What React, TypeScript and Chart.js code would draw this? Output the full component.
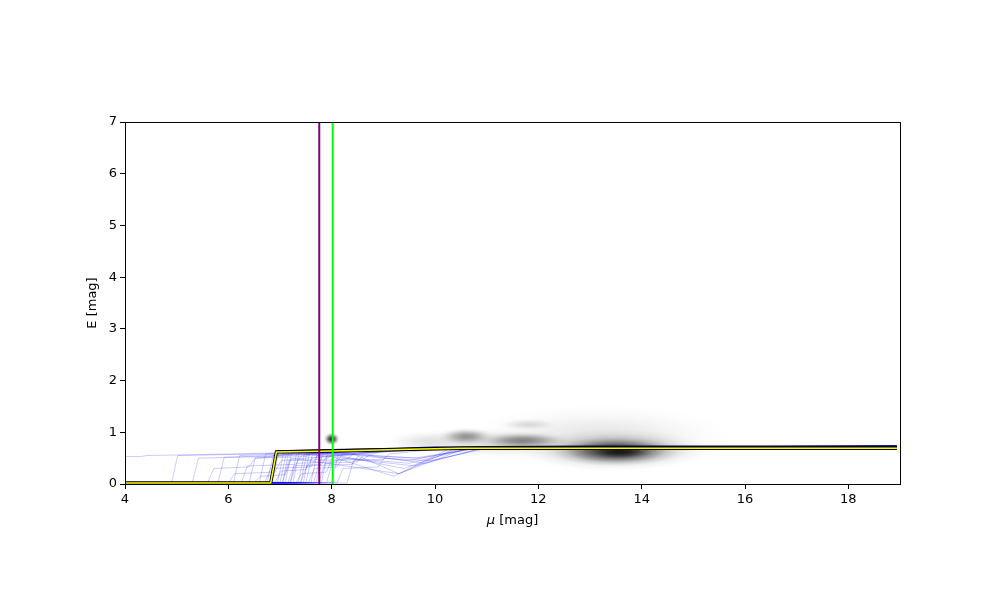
import React, { useEffect, useRef } from "react";
import { Chart, registerables } from "chart.js";

Chart.register(...registerables);

// axis ticks
const xTicks = [4, 6, 8, 10, 12, 14, 16, 18];
const yTicks = [0, 1, 2, 3, 4, 5, 6, 7];
const xTitleSymbol = "μ";
const xTitleUnit = " [mag]";

// density blobs (mu, E, radius in mu, radius in E, darkness)
const blobMu = [13.2, 11.0, 9.8, 13.5, 13.5, 13.6, 11.7, 10.6, 11.8, 8.0];
const blobE = [0.9, 0.8, 0.82, 0.66, 0.63, 0.62, 0.84, 0.92, 1.15, 0.87];
const blobSx = [2.6, 1.9, 0.8, 1.8, 1.2, 0.6, 0.9, 0.55, 0.6, 0.16];
const blobSy = [0.65, 0.3, 0.22, 0.4, 0.28, 0.14, 0.17, 0.17, 0.12, 0.13];
const blobAlpha = [0.1, 0.12, 0.08, 0.35, 0.7, 0.55, 0.42, 0.38, 0.12, 0.85];

// individual sample traces (blue)
const traceBase = [0.53, 0.02, 0.02, 0.03, 0.02, 0.02, 0.03, 0.02, 0.02, 0.03, 0.02, 0.02, 0.03, 0.02, 0.02, 0.02, 0.03, 0.02, 0.02, 0.03, 0.02, 0.02, 0.02, 0.03, 0.02, 0.02, 0.03, 0.02, 0.02, 0.02, 0.03, 0.02, 0.02, 0.03, 0.02, 0.02, 0.02, 0.03, 0.02, 0.02];
const traceJ1 = [4.3, 4.9, 5.3, 5.6, 5.8, 6.0, 6.1, 6.25, 6.4, 6.5, 6.6, 6.7, 6.75, 6.85, 6.9, 7.0, 7.05, 7.1, 7.15, 7.2, 7.25, 7.3, 7.35, 7.4, 7.45, 7.5, 7.55, 7.6, 7.65, 7.7, 7.75, 7.8, 7.9, 8.0, 8.1, 8.3, 6.95, 7.05, 7.2, 7.4];
const traceE1 = [0.55, 0.55, 0.5, 0.3, 0.52, 0.2, 0.55, 0.35, 0.5, 0.15, 0.58, 0.3, 0.55, 0.6, 0.25, 0.58, 0.45, 0.6, 0.35, 0.4, 0.6, 0.2, 0.57, 0.35, 0.6, 0.55, 0.3, 0.6, 0.45, 0.58, 0.4, 0.6, 0.45, 0.55, 0.3, 0.45, 0.6, 0.62, 0.58, 0.6];
const traceJ2 = [6.0, 6.5, 6.8, 6.4, 7.0, 6.9, 7.2, 7.3, 7.5, 7.1, 7.4, 7.6, 7.7, 7.8, 7.5, 8.0, 7.9, 8.2, 7.8, 8.1, 8.0, 7.9, 8.3, 8.4, 8.2, 8.5, 8.1, 8.4, 8.3, 8.6, 8.5, 8.7, 8.6, 8.8, 8.9, 9.0, 7.6, 7.8, 8.0, 8.1];
const traceE2 = [0.58, 0.58, 0.56, 0.5, 0.58, 0.45, 0.6, 0.55, 0.58, 0.5, 0.6, 0.55, 0.6, 0.62, 0.5, 0.62, 0.57, 0.63, 0.55, 0.58, 0.62, 0.52, 0.62, 0.55, 0.63, 0.6, 0.5, 0.63, 0.58, 0.62, 0.56, 0.63, 0.55, 0.62, 0.5, 0.58, 0.62, 0.63, 0.62, 0.63];
const traceM = [8.0, 8.3, 8.6, 8.2, 8.8, 8.5, 9.0, 9.2, 8.7, 9.3, 8.9, 9.5, 9.0, 9.1, 9.0, 9.2, 9.4, 9.0, 9.1, 9.6, 9.3, 9.2, 9.2, 9.5, 9.0, 9.4, 9.6, 9.2, 9.3, 9.5, 9.7, 9.4, 9.8, 9.6, 9.9, 9.8, 8.8, 9.0, 9.1, 9.0];
const traceE3 = [0.63, 0.64, 0.63, 0.62, 0.65, 0.6, 0.65, 0.64, 0.64, 0.2, 0.65, 0.4, 0.66, 0.66, 0.62, 0.66, 0.3, 0.66, 0.64, 0.5, 0.66, 0.15, 0.66, 0.45, 0.66, 0.65, 0.35, 0.66, 0.2, 0.66, 0.5, 0.66, 0.4, 0.66, 0.45, 0.65, 0.66, 0.67, 0.66, 0.66];
const traceJoin = [10.3, 10.4, 10.5, 10.3, 10.6, 10.4, 10.5, 10.6, 10.4, 10.3, 10.5, 10.7, 10.4, 10.5, 10.6, 10.4, 10.5, 10.3, 10.6, 10.8, 10.5, 10.4, 10.6, 10.7, 10.5, 10.4, 10.9, 10.5, 10.6, 10.4, 10.8, 10.5, 10.9, 10.6, 11.0, 10.7, 10.4, 10.5, 10.4, 10.5];
const traceEnd = [0.72, 0.71, 0.73, 0.72, 0.74, 0.71, 0.73, 0.72, 0.74, 0.73, 0.72, 0.71, 0.73, 0.74, 0.72, 0.73, 0.72, 0.74, 0.71, 0.73, 0.72, 0.73, 0.74, 0.72, 0.73, 0.71, 0.72, 0.74, 0.73, 0.72, 0.73, 0.74, 0.72, 0.73, 0.71, 0.72, 0.73, 0.74, 0.73, 0.72];
const traceStartMu = 4.0;
const traceEndMu = 18.94;

// best-fit profile (yellow with black outline)
const fitMu = [4.02, 6.82, 6.93, 7.5, 8.5, 9.5, 10.5, 12.0, 18.94];
const fitE = [0.02, 0.02, 0.62, 0.63, 0.65, 0.67, 0.69, 0.69, 0.69];

// median profile (dark navy)
const medMu = [6.95, 8.0, 9.0, 10.0, 11.0, 13.0, 18.94];
const medE = [0.64, 0.66, 0.68, 0.71, 0.72, 0.73, 0.73];

// vertical markers
const purpleMu = 7.76;
const greenMu = 8.02;

const FONT_FAMILY = "'DejaVu Sans', sans-serif";

const blobPlugin = {
  id: "blobs",
  beforeDatasetsDraw(chart: any) {
    const { ctx, chartArea, scales } = chart;
    const xs = scales.x;
    const ys = scales.y;
    ctx.save();
    ctx.beginPath();
    ctx.rect(chartArea.left, chartArea.top, chartArea.right - chartArea.left, chartArea.bottom - chartArea.top);
    ctx.clip();
    for (let i = 0; i < blobMu.length; i++) {
      const cx = xs.getPixelForValue(blobMu[i]);
      const cy = ys.getPixelForValue(blobE[i]);
      const rx = Math.abs(xs.getPixelForValue(blobMu[i] + blobSx[i]) - cx);
      const ry = Math.abs(ys.getPixelForValue(blobE[i] + blobSy[i]) - cy);
      const a = blobAlpha[i];
      const g = ctx.createRadialGradient(0, 0, 0, 0, 0, 1);
      g.addColorStop(0, `rgba(0,0,0,${a})`);
      g.addColorStop(0.2, `rgba(0,0,0,${a * 0.9})`);
      g.addColorStop(0.4, `rgba(0,0,0,${a * 0.65})`);
      g.addColorStop(0.6, `rgba(0,0,0,${a * 0.35})`);
      g.addColorStop(0.8, `rgba(0,0,0,${a * 0.1})`);
      g.addColorStop(1, "rgba(0,0,0,0)");
      ctx.save();
      ctx.translate(cx, cy);
      ctx.scale(rx, ry);
      ctx.fillStyle = g;
      ctx.beginPath();
      ctx.arc(0, 0, 1, 0, Math.PI * 2);
      ctx.fill();
      ctx.restore();
    }
    ctx.restore();
  },
  afterDraw(chart: any) {
    const { ctx, chartArea } = chart;
    ctx.save();
    ctx.strokeStyle = "#000";
    ctx.lineWidth = 1;
    ctx.strokeRect(Math.round(chartArea.left) + 0.5, Math.round(chartArea.top) + 0.5, Math.round(chartArea.right - chartArea.left), Math.round(chartArea.bottom - chartArea.top));
    // x-axis title with italic mu
    const cx = (chartArea.left + chartArea.right) / 2;
    const y = chartArea.bottom + 37;
    ctx.fillStyle = "#000";
    ctx.textBaseline = "middle";
    ctx.font = `italic 13px ${FONT_FAMILY}`;
    const w1 = ctx.measureText(xTitleSymbol).width;
    ctx.font = `13px ${FONT_FAMILY}`;
    const w2 = ctx.measureText(xTitleUnit).width;
    const start = cx - (w1 + w2) / 2;
    ctx.textAlign = "left";
    ctx.font = `italic 13px ${FONT_FAMILY}`;
    ctx.fillText(xTitleSymbol, start, y);
    ctx.font = `13px ${FONT_FAMILY}`;
    ctx.fillText(xTitleUnit, start + w1, y);
    ctx.restore();
  },
};

export default function App() {
  const ref = useRef<HTMLCanvasElement>(null);
  useEffect(() => {
    if (!ref.current) return;
    const datasets: any[] = [];
    datasets.push({ data: [{ x: purpleMu, y: 0 }, { x: purpleMu, y: 7 }], borderColor: "#800080", borderWidth: 2, order: 0 });
    datasets.push({ data: [{ x: greenMu, y: 0 }, { x: greenMu, y: 7 }], borderColor: "#00ff00", borderWidth: 2, order: 0 });
    datasets.push({ data: fitMu.map((x, i) => ({ x, y: fitE[i] })), borderColor: "#ffff00", borderWidth: 1.5, order: 1 });
    datasets.push({ data: fitMu.map((x, i) => ({ x, y: fitE[i] })), borderColor: "#000000", borderWidth: 3.2, order: 2 });
    datasets.push({ data: medMu.map((x, i) => ({ x, y: medE[i] })), borderColor: "#000050", borderWidth: 1.5, order: 3 });
    for (let i = 0; i < traceJ1.length; i++) {
      datasets.push({
        data: [
          { x: traceStartMu, y: traceBase[i] },
          { x: traceJ1[i], y: traceBase[i] },
          { x: traceJ1[i] + 0.12, y: traceE1[i] },
          { x: traceJ2[i], y: traceE1[i] + 0.03 },
          { x: traceJ2[i] + 0.12, y: traceE2[i] },
          { x: traceM[i], y: traceE3[i] },
          { x: traceJoin[i], y: 0.69 },
          { x: traceEndMu, y: traceEnd[i] },
        ],
        borderColor: "rgba(0,0,255,0.26)",
        borderWidth: 0.8,
        order: 4,
      });
    }
    const font = { family: FONT_FAMILY, size: 13 };
    const chart = new Chart(ref.current, {
      type: "scatter",
      data: { datasets },
      plugins: [blobPlugin],
      options: {
        animation: false,
        responsive: false,
        showLine: true,
        elements: { point: { radius: 0, hoverRadius: 0 }, line: { tension: 0 } },
        layout: { padding: { top: 122, right: 100, left: 85, bottom: 68 } },
        plugins: { legend: { display: false }, tooltip: { enabled: false } },
        scales: {
          x: {
            type: "linear",
            min: 4,
            max: 19,
            afterBuildTicks: (s: any) => { s.ticks = xTicks.map((v) => ({ value: v })); },
            afterFit: (s: any) => { s.height = 48; },
            grid: { display: true, drawOnChartArea: false, drawTicks: true, tickLength: 5, color: "#000" },
            border: { display: true, color: "#000" },
            ticks: { color: "#000", font, padding: 3, maxRotation: 0 },
            title: { display: false },
          },
          y: {
            type: "linear",
            min: 0,
            max: 7,
            afterBuildTicks: (s: any) => { s.ticks = yTicks.map((v) => ({ value: v })); },
            afterFit: (s: any) => { s.width = 40; },
            grid: { display: true, drawOnChartArea: false, drawTicks: true, tickLength: 5, color: "#000" },
            border: { display: true, color: "#000" },
            ticks: { color: "#000", font, padding: 3 },
            title: { display: true, text: "E [mag]", color: "#000", font, padding: 0 },
          },
        },
      },
    } as any);
    return () => chart.destroy();
  }, []);
  return (
    <div style={{ position: "absolute", left: 0, top: 0, width: 1000, height: 600, background: "#fff" }}>
      <canvas ref={ref} width={1000} height={600} style={{ width: 1000, height: 600 }} />
    </div>
  );
}
